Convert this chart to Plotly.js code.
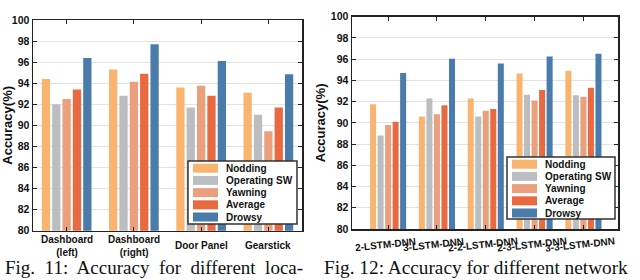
<!DOCTYPE html>
<html>
<head>
<meta charset="utf-8">
<script src="https://cdn.plot.ly/plotly-3.0.1.min.js"></script>
<style>html,body{margin:0;padding:0;background:#fff;} #chart{width:640px;height:280px;}</style>
</head>
<body>
<div id="chart"></div>
<script>
// ---- data ----
var seriesNames = ['Nodding', 'Operating SW', 'Yawning', 'Average', 'Drowsy'];
var seriesColors = ['#F9B56F', '#BCBDC0', '#EA9F7D', '#E96A40', '#4A7CAB'];

var locations = ['Dashboard (left)', 'Dashboard (right)', 'Door Panel', 'Gearstick'];
var locationLabels = ['Dashboard<br>(left)', 'Dashboard<br>(right)', 'Door Panel', 'Gearstick'];
var noddingLoc = [94.4, 95.3, 93.6, 93.1];
var operatingLoc = [92.0, 92.8, 91.7, 91.0];
var yawningLoc = [92.5, 94.15, 93.75, 89.45];
var averageLoc = [93.4, 94.9, 92.8, 91.7];
var drowsyLoc = [96.4, 97.7, 96.1, 94.85];

var networks = ['2-LSTM-DNN', '3-LSTM-DNN', '2-2-LSTM-DNN', '2-3-LSTM-DNN', '3-3-LSTM-DNN'];
var noddingNet = [91.75, 90.6, 92.3, 94.65, 94.9];
var operatingNet = [88.8, 92.3, 90.6, 92.65, 92.6];
var yawningNet = [89.8, 90.8, 91.15, 92.1, 92.45];
var averageNet = [90.1, 91.65, 91.3, 93.1, 93.3];
var drowsyNet = [94.7, 96.05, 95.6, 96.25, 96.5];

var yTicks = [80, 82, 84, 86, 88, 90, 92, 94, 96, 98, 100];
var yTitle = 'Accuracy(%)';
var caption1 = 'Fig.\u00A0 11:\u00A0 Accuracy\u00A0 for\u00A0 different\u00A0 loca-';
var caption2 = 'Fig. 12: Accuracy for different network';

// ---- helpers ----
var W = 640, H = 280;
function px(x) { return x / W; }
function py(y) { return 1 - y / H; }
var sans = 'Liberation Sans, Arial, sans-serif';
var serif = 'Liberation Serif, Times New Roman, serif';

var locSeries = [noddingLoc, operatingLoc, yawningLoc, averageLoc, drowsyLoc];
var netSeries = [noddingNet, operatingNet, yawningNet, averageNet, drowsyNet];

var traces = [];
seriesNames.forEach(function (name, i) {
  traces.push({type: 'bar', name: name, x: locations, y: locSeries[i],
    marker: {color: seriesColors[i]}, xaxis: 'x', yaxis: 'y', showlegend: false, hoverinfo: 'none'});
});
seriesNames.forEach(function (name, i) {
  traces.push({type: 'bar', name: name, x: networks, y: netSeries[i],
    marker: {color: seriesColors[i]}, xaxis: 'x2', yaxis: 'y2', showlegend: false, hoverinfo: 'none'});
});

function yAxis(domain, anchor) {
  return {
    domain: domain, anchor: anchor, range: [80, 100], tickvals: yTicks,
    ticks: 'inside', ticklen: 4, tickwidth: 1, tickcolor: '#222',
    showline: true, linecolor: '#222', linewidth: 1.5, mirror: 'ticks',
    showgrid: true, gridcolor: '#e2e2e2', gridwidth: 1, zeroline: false,
    tickfont: {family: sans, size: 10.5, weight: 'bold', color: '#111'},
    title: {text: yTitle, font: {family: sans, size: 13, weight: 'bold', color: '#111'}, standoff: 2},
    automargin: false, fixedrange: true
  };
}
function xAxis(domain, anchor) {
  return {
    domain: domain, anchor: anchor, type: 'category',
    ticks: 'inside', ticklen: 4, tickwidth: 1, tickcolor: '#222',
    showline: true, linecolor: '#222', linewidth: 1.5, mirror: 'ticks',
    showgrid: false, zeroline: false, showticklabels: false,
    automargin: false, fixedrange: true
  };
}

var annotations = [];
var shapes = [];

// x tick labels (centered, as in the figure)
locations.forEach(function (c, i) {
  annotations.push({xref: 'x', yref: 'paper', x: c, y: py(245.5), xanchor: 'center', yanchor: 'middle',
    text: locationLabels[i], showarrow: false,
    font: {family: sans, size: 10, weight: 'bold', color: '#111'}});
});
networks.forEach(function (c, i) {
  annotations.push({xref: 'x2', yref: 'paper', x: c, y: py(244.5), xanchor: 'center', yanchor: 'middle',
    xshift: -3, textangle: -6, text: c, showarrow: false,
    font: {family: sans, size: 10, weight: 'bold', color: '#111'}});
});

// legends drawn as boxes
function addLegend(x0, y0, w, h) {
  shapes.push({type: 'rect', xref: 'paper', yref: 'paper', x0: px(x0), x1: px(x0 + w), y0: py(y0), y1: py(y0 + h),
    line: {color: '#333', width: 1.5}, fillcolor: '#fff', layer: 'above'});
  seriesNames.forEach(function (name, i) {
    var cy = y0 + 7.2 + i * 12.2;
    shapes.push({type: 'rect', xref: 'paper', yref: 'paper', x0: px(x0 + 5), x1: px(x0 + 30),
      y0: py(cy - 4.5), y1: py(cy + 4.5), line: {width: 0}, fillcolor: seriesColors[i], layer: 'above'});
    annotations.push({xref: 'paper', yref: 'paper', x: px(x0 + 36), y: py(cy), xanchor: 'left', yanchor: 'middle',
      align: 'left', text: name, showarrow: false, font: {family: sans, size: 10, weight: 'bold', color: '#111'}});
  });
}
addLegend(188, 161, 109, 63);
addLegend(507, 157, 108, 62);

// captions
annotations.push({xref: 'paper', yref: 'paper', x: px(3), y: 0, xanchor: 'left', yanchor: 'bottom',
  text: caption1, showarrow: false, font: {family: serif, size: 19, color: '#111'}});
annotations.push({xref: 'paper', yref: 'paper', x: px(322), y: 0, xanchor: 'left', yanchor: 'bottom',
  text: caption2, showarrow: false, font: {family: serif, size: 19.3, color: '#111'}});

var layout = {
  width: W, height: H, margin: {l: 0, r: 0, t: 0, b: 0},
  paper_bgcolor: '#fff', plot_bgcolor: '#fff',
  barmode: 'group', bargap: 0.23, bargroupgap: 0.2,
  showlegend: false,
  xaxis: xAxis([px(33), px(302)], 'y'),
  yaxis: yAxis([py(230.7), py(20)], 'x'),
  xaxis2: xAxis([px(352), px(618)], 'y2'),
  yaxis2: yAxis([py(229), py(16.7)], 'x2'),
  annotations: annotations,
  shapes: shapes
};

Plotly.newPlot('chart', traces, layout, {staticPlot: true, displayModeBar: false});
</script>
</body>
</html>
